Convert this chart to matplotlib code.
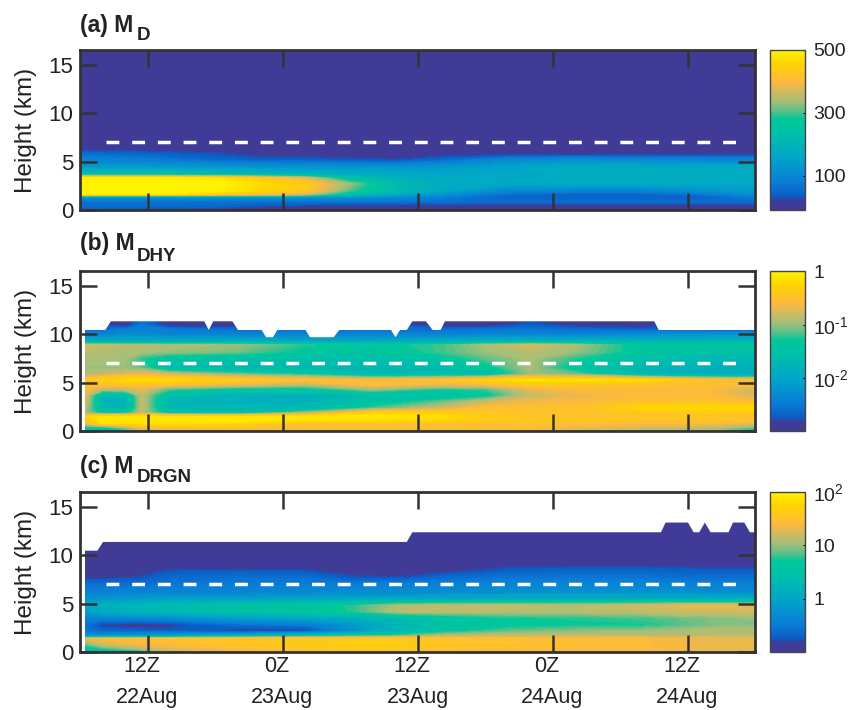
#!/usr/bin/env python3
import numpy as np
import matplotlib
matplotlib.use('Agg')
import matplotlib.pyplot as plt
from matplotlib.colors import LinearSegmentedColormap, Normalize
from matplotlib.cm import ScalarMappable

plt.rcParams['font.family'] = ['Liberation Sans', 'DejaVu Sans']
plt.rcParams['mathtext.fontset'] = 'custom'
plt.rcParams['mathtext.rm'] = 'Liberation Sans'
plt.rcParams['mathtext.default'] = 'regular'

# time is hours since 0Z 22Aug
tick_hours = [12, 24, 36, 48, 60]
tick_times = ['12Z', '0Z', '12Z', '0Z', '12Z']
tick_dates = ['22Aug', '23Aug', '23Aug', '24Aug', '24Aug']
height_ticks = [0, 5, 10, 15]
ref_height = 7
ref_span = [8.3, 65.3]

# panel a, mass values
t_a = [6, 12, 18, 22, 26, 30, 34, 38, 44, 50, 56, 62, 66]
z_a = [0, 0.4, 0.9, 1.3, 1.6, 2.0, 2.7, 3.3, 3.7, 4.5, 5.2, 5.8, 6.3, 7, 16.5]
m_d = [
    [40, 20, 5, 5, 5, 5, 5, 5, 5, 5, 5, 5, 5],
    [60, 55, 50, 30, 20, 10, 10, 10, 5, 5, 5, 5, 5],
    [65, 65, 65, 65, 70, 70, 70, 65, 60, 60, 60, 60, 60],
    [110, 110, 110, 110, 110, 110, 100, 80, 42, 38, 38, 45, 75],
    [480, 480, 430, 400, 360, 230, 170, 120, 55, 45, 45, 70, 110],
    [520, 520, 500, 460, 430, 300, 220, 170, 100, 90, 90, 120, 140],
    [520, 520, 500, 470, 440, 330, 220, 180, 160, 165, 165, 165, 165],
    [500, 500, 480, 430, 370, 240, 190, 170, 170, 180, 180, 175, 175],
    [230, 230, 220, 200, 190, 180, 170, 160, 165, 180, 180, 175, 175],
    [130, 130, 120, 120, 115, 120, 120, 125, 150, 170, 165, 160, 160],
    [90, 80, 50, 40, 40, 30, 25, 50, 100, 110, 100, 95, 95],
    [60, 45, 30, 12, 10, 8, 8, 8, 10, 10, 10, 10, 10],
    [10, 8, 5, 5, 5, 5, 5, 5, 5, 5, 5, 5, 5],
    [5, 5, 5, 5, 5, 5, 5, 5, 5, 5, 5, 5, 5],
    [5, 5, 5, 5, 5, 5, 5, 5, 5, 5, 5, 5, 5],
]

# panel b, log10 of the values
t_b = [6.5, 8, 10, 11.5, 14, 20, 26, 32, 38, 42, 46, 50, 56, 62, 66]
z_b = [0, 0.3, 0.8, 1.1, 1.5, 1.9, 2.4, 3.0, 3.7, 4.3, 4.8, 5.3, 5.9, 6.5,
       7.5, 8.2, 8.9, 9.3, 10.0, 10.5, 10.9, 11.4]
m_dhy = [
    [-1.7, -1.6, -1.2, -.8, -.7, -.7, -.6, -.6, -.6, -.7, -.7, -.8, -.9, -1.0, -1.5],
    [-1.5, -1.5, -1.1, -.7, -.6, -.6, -.6, -.6, -.55, -.6, -.6, -.7, -.8, -.9, -1.2],
    [-.6, -.15, -.15, -.15, -.15, -.2, -.5, -.5, -.5, -.5, -.5, -.55, -.6, -.6, -.7],
    [-.4, -.1, -.1, -.1, -.1, -.1, -.2, -.2, -.25, -.4, -.4, -.45, -.45, -.45, -.5],
    [-.3, -.1, -.1, -.1, -.1, -.1, -.1, -.1, -.15, -.35, -.45, -.5, -.45, -.45, -.5],
    [-1.0, -1.4, -1.4, -.9, -1.5, -1.6, -1.0, -.3, -.35, -.45, -.5, -.5, -.45, -.4, -.45],
    [-.9, -1.7, -1.75, -.85, -1.75, -1.75, -1.7, -1.2, -.85, -.55, -.5, -.5, -.2, -.2, -.2],
    [-.8, -1.8, -1.8, -.85, -1.75, -1.85, -1.85, -1.5, -1.1, -.8, -.65, -.6, -.5, -.5, -.55],
    [-.75, -1.75, -1.7, -.85, -1.65, -1.8, -1.85, -1.6, -1.6, -1.4, -.85, -.7, -.6, -.6, -.8],
    [-.6, -.9, -.9, -.75, -1.2, -1.45, -1.45, -1.0, -1.3, -1.2, -.7, -.6, -.6, -.6, -.8],
    [-.5, -.5, -.5, -.5, -.55, -.7, -.9, -.55, -.7, -.65, -.45, -.45, -.5, -.55, -.6],
    [-.5, -.3, -.2, -.2, -.2, -.35, -.5, -.6, -.5, -.25, -.1, -.1, -.2, -.5, -.55],
    [-.9, -.85, -.75, -.7, -.8, -1.1, -1.3, -1.7, -1.6, -1.6, -1.0, -1.1, -1.7, -1.9, -1.9],
    [-1, -1, -1, -1.1, -1.65, -1.7, -1.7, -1.75, -1.7, -1.4, -.95, -1.4, -1.75, -1.85, -1.85],
    [-.95, -.95, -.95, -1.25, -1.5, -1.55, -1.6, -1.6, -1.4, -1.15, -.95, -1.25, -1.55, -1.7, -1.7],
    [-.9, -.9, -.95, -.95, -1.0, -1.1, -1.35, -1.45, -1.2, -1.0, -.9, -1.0, -1.4, -1.55, -1.55],
    [-.8, -.85, -.9, -.9, -.95, -1.0, -1.25, -1.35, -1.2, -.95, -.75, -.95, -1.4, -1.4, -1.4],
    [-1.9, -1.9, -1.9, -1.9, -1.9, -1.9, -2, -2, -1.9, -1.8, -1.8, -1.8, -1.8, -1.8, -1.8],
    [-2.35, -2.4, -2.3, -2.3, -2.4, -2.4, -2.4, -2.4, -2.4, -2.4, -2.4, -2.4, -2.3, -2.2, -2.2],
    [-2.7, -2.6, -2.45, -2.45, -2.5, -2.6, -2.6, -2.6, -2.6, -2.55, -2.55, -2.6, -2.7, -2.7, -2.7],
    [-2.6, -2.7, -2.9, -2.5, -2.9, -2.9, -2.6, -2.6, -2.9, -2.9, -2.7, -2.85, -2.9, -2.6, -2.6],
    [-3, -3, -3, -2.6, -3, -3, -3, -3, -3, -3, -2.8, -3, -3, -3, -3],
]
top_t_b = [6, 8.2, 8.7, 17, 17.4, 17.8, 19.5, 20, 22.1, 22.5, 23.1, 23.5, 26, 26.4,
           28.5, 29, 33.6, 34, 34.4, 35, 35.5, 36.7, 37.3, 38, 38.4, 57, 57.4, 66]
top_h_b = [10.5, 10.5, 11.4, 11.4, 10.5, 11.4, 11.4, 10.5, 10.5, 9.75, 9.75, 10.5, 10.5, 9.75,
           9.75, 10.5, 10.5, 9.75, 10.5, 10.5, 11.4, 11.4, 10.5, 10.5, 11.4, 11.4, 10.5, 10.5]

# panel c, log10 of the values
t_c = [6.5, 8, 11, 14, 20, 26, 30, 34, 38, 44, 50, 56, 60, 63, 66]
z_c = [0, 0.3, 0.8, 1.4, 1.7, 2.2, 2.8, 3.5, 4.2, 4.8, 5.5, 6.2, 7.0, 7.7, 8.3, 8.8, 9.5, 13.5]
m_drgn = [
    [-.5, -.3, .2, 1.0, 1.3, 1.4, 1.45, 1.4, 1.35, 1.3, 1.3, 1.3, 1.25, 1.25, 1.2],
    [.4, .7, 1.0, 1.25, 1.4, 1.55, 1.6, 1.6, 1.5, 1.45, 1.4, 1.4, 1.35, 1.3, 1.3],
    [.9, 1.2, 1.35, 1.4, 1.55, 1.6, 1.65, 1.65, 1.55, 1.5, 1.45, 1.4, 1.35, 1.3, 1.3],
    [1.3, 1.4, 1.45, 1.5, 1.55, 1.6, 1.6, 1.6, 1.5, 1.45, 1.4, 1.4, 1.35, 1.3, 1.3],
    [-.3, -.3, -.2, -.1, .1, .4, .65, .8, 1.05, 1.15, 1.15, 1.1, 1.1, 1.1, 1.1],
    [-.55, -.65, -.7, -.75, -.85, -.85, -.3, .2, .6, .85, .95, 1.0, 1.05, 1.1, 1.1],
    [-.6, -.85, -.9, -.85, -.6, -.5, -.2, .2, .5, .65, .7, .72, .85, .95, .95],
    [-.4, -.4, -.35, -.3, -.1, 0, .1, .3, .5, .7, .75, .8, .9, .95, 1.0],
    [-.1, .1, .2, .3, .45, .55, .75, 1.1, 1.15, 1.1, 1.1, 1.15, 1.2, 1.2, 1.2],
    [0, .15, .25, .35, .5, .6, .75, 1.05, 1.15, 1.15, 1.1, 1.2, 1.3, 1.3, 1.3],
    [-.25, -.2, -.15, -.1, -.1, -.05, 0, 0, 0, .05, .1, .1, .1, .05, .05],
    [-.45, -.45, -.4, -.4, -.4, -.35, -.3, -.3, -.3, -.25, -.25, -.25, -.25, -.3, -.3],
    [-.6, -.6, -.6, -.55, -.5, -.5, -.5, -.45, -.45, -.4, -.4, -.4, -.45, -.45, -.45],
    [-.85, -.85, -.8, -.65, -.6, -.6, -.75, -.8, -.65, -.55, -.55, -.55, -.6, -.6, -.6],
    [-.9, -.9, -.9, -.75, -.72, -.75, -.9, -.9, -.85, -.7, -.65, -.65, -.7, -.7, -.7],
    [-.95, -.95, -.95, -.9, -.9, -.9, -.95, -.95, -.95, -.82, -.8, -.8, -.82, -.85, -.85],
    [-.95, -.95, -.95, -.95, -.95, -.95, -.95, -.95, -.95, -.95, -.95, -.95, -.95, -.95, -.95],
    [-.95, -.95, -.95, -.95, -.95, -.95, -.95, -.95, -.95, -.95, -.95, -.95, -.95, -.95, -.95],
]
top_t_c = [6, 7.5, 8, 35, 35.5, 57.6, 58, 60, 60.5, 61, 61.5, 62, 63.6, 64, 65, 65.5, 66]
top_h_c = [10.5, 10.5, 11.4, 11.4, 12.4, 12.4, 13.4, 13.4, 12.4, 12.4, 13.4, 12.4, 12.4, 13.4, 13.4, 12.4, 12.4]

stops = [(0, '#403b96'), (.055, '#403b96'), (.085, '#0b5cc4'), (.17, '#0a7cd6'),
         (.33, '#00a6c8'), (.48, '#00c0a8'), (.57, '#00c89a'), (.62, '#5cc088'),
         (.68, '#a6bf78'), (.74, '#d0ba60'), (.8, '#fdb93e'), (.92, '#ffd400'), (1, '#fff200')]
parula = LinearSegmentedColormap.from_list('parula_like', stops, N=256)

FW, FH = 851., 710.
axes_px = [(50, 210), (271.5, 431), (492, 652)]
ax_left, ax_right = 80, 755
cb_left, cb_right = 770, 805

panels = [
    ('(a) M', 'D', 32, 40, t_a, z_a, m_d, (-8, 500), [100, 300, 500], ['100', '300', '500'], None),
    ('(b) M', 'DHY', 250, 261, t_b, z_b, m_dhy, (-3, 0), [-2, -1, 0],
     ['10$^{\\text{-}2}$', '10$^{\\text{-}1}$', '1'], (top_t_b, top_h_b)),
    ('(c) M', 'DRGN', 473, 482, t_c, z_c, m_drgn, (-1, 2), [0, 1, 2], ['1', '10', '10$^{2}$'], (top_t_c, top_h_c)),
]

dark = '#333333'
ink = '#222222'
fig = plt.figure(figsize=(FW/100, FH/100), dpi=100)

for k, (title, sub, title_y, sub_y, t, z, field, lims, cticks, clabels, top) in enumerate(panels):
    y_top, y_bot = axes_px[k]
    ax = fig.add_axes([ax_left/FW, 1-y_bot/FH, (ax_right-ax_left)/FW, (y_bot-y_top)/FH])
    levels = np.linspace(lims[0], lims[1], 65)
    norm = Normalize(lims[0], lims[1])
    ax.contourf(t, z, np.array(field), levels=levels, cmap=parula, norm=norm, extend='both', zorder=1)
    if top is not None:
        ax.fill_between(top[0], top[1], 17, color='white', lw=0, zorder=2)
    ax.plot(ref_span, [ref_height, ref_height], color='white', lw=2.5, linestyle=(0, (3.7, 3.7)), zorder=3)

    ax.set_xlim(6, 66)
    ax.set_ylim(0, 16.5)
    ax.set_xticks(tick_hours)
    ax.set_yticks(height_ticks)
    ax.set_axisbelow(False)
    ax.tick_params(direction='in', top=True, right=True, length=12, width=1.8, color=dark,
                   labelsize=16, labelcolor=ink, pad=5)
    ax.set_xticklabels([])
    if k == 2:
        # the time label sits a bit left of its tick, the date label does not
        for h, tm, dt in zip(tick_hours, tick_times, tick_dates):
            ax.annotate(tm, (h, 0), xycoords=('data', 'axes fraction'), xytext=(-6, -15),
                        textcoords='offset pixels', ha='center', va='center', fontsize=15.5, color=ink)
            ax.annotate(dt, (h, 0), xycoords=('data', 'axes fraction'), xytext=(0, -45),
                        textcoords='offset pixels', ha='center', va='center', fontsize=15.5, color=ink)
    for s in ax.spines.values():
        s.set_linewidth(2)
        s.set_color(dark)
    ax.set_ylabel('Height (km)', fontsize=17.5, color=ink)
    ax.yaxis.set_label_coords(-0.064, 0.5)

    fig.text(ax_left/FW, 1-title_y/FH, title, fontsize=16.5, fontweight='bold', color=ink,
             ha='left', va='baseline')
    fig.text(137/FW, 1-sub_y/FH, sub, fontsize=13.5, fontweight='bold', color=ink,
             ha='left', va='baseline')

    cax = fig.add_axes([cb_left/FW, 1-y_bot/FH, (cb_right-cb_left)/FW, (y_bot-y_top)/FH])
    cb = fig.colorbar(ScalarMappable(norm=norm, cmap=parula), cax=cax)
    cb.set_ticks(cticks)
    cb.set_ticklabels(clabels)
    cb.ax.tick_params(length=1.5, width=0.8, direction='in', labelsize=14, labelcolor=ink, pad=6)
    cb.outline.set_linewidth(1)
    cb.outline.set_edgecolor('#444444')

fig.savefig('out.png', dpi=100)
